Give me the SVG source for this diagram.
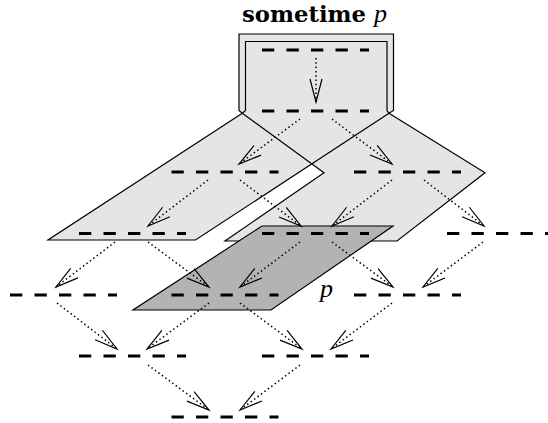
<svg xmlns="http://www.w3.org/2000/svg" width="548" height="423" viewBox="0 0 548 423">
<style>
.bg{fill:#fff}
.lt{fill:#e5e5e5;stroke:none}
.edge{fill:none;stroke:#000;stroke-width:1.2;stroke-linejoin:miter}
.dk{fill:#b3b3b3;stroke:#000;stroke-width:1.2}
.st{stroke:#000;stroke-width:3;stroke-dasharray:12.3 12.2;fill:none}
.conn{stroke:#000;stroke-width:1.5;stroke-dasharray:1.5 2.8;fill:none;marker-end:url(#ah)}
.title{font-family:"DejaVu Serif","Liberation Serif",serif;font-weight:bold;font-size:22.5px}
.math{font-family:"Liberation Serif","DejaVu Serif",serif;font-style:italic;font-size:26px}
</style>
<defs>
<marker id="ah" markerUnits="userSpaceOnUse" orient="auto" refX="0" refY="0" markerWidth="30" markerHeight="16" viewBox="-26 -8 30 16" overflow="visible">
<path d="M-23,-6 L0,0 L-23,6" fill="none" stroke="#000" stroke-width="1.2" stroke-dasharray="none"/>
</marker>
</defs>
<rect class="bg" x="0" y="0" width="548" height="423"/>

<g id="regions">
<polygon class="lt" points="242.3,113.3 48,240 195.5,240 389,113.3"/>
<polygon class="lt" points="242.3,113.3 324,172.7 225,241 397,241 485,172.7 389,113.3"/>
<polygon class="lt" points="239,34 393.5,34 393.5,110.5 389,113.3 242.3,113.3 239,110.5"/>
<path class="edge" d="M242.3,113.3 L239,110.5 V34 H393.5 V110.5 L389,113.3"/>
<path class="edge" d="M242.3,113.3 L245.5,110.5 V41.5 H387 V110.5 L389,113.3"/>
<path class="edge" d="M242.3,113.3 L48,240 H195.5 L389,113.3"/>
<path class="edge" d="M242.3,113.3 L324,172.7 L225,241 H397 L485,172.7 L389,113.3"/>
<polygon id="p-region" class="dk" points="262,226 393,226 271,310 133,310"/>
</g>

<g id="connectors">
<line class="conn" x1="316" y1="58" x2="316" y2="102"/>
<line class="conn" x1="300" y1="119" x2="239" y2="164"/>
<line class="conn" x1="332" y1="119" x2="392" y2="164"/>
<line class="conn" x1="208" y1="180" x2="148" y2="226"/>
<line class="conn" x1="240" y1="180" x2="301" y2="226"/>
<line class="conn" x1="392" y1="180" x2="332" y2="226"/>
<line class="conn" x1="424" y1="180" x2="484" y2="226"/>
<line class="conn" x1="115" y1="242" x2="56" y2="287"/>
<line class="conn" x1="148" y1="242" x2="209" y2="287"/>
<line class="conn" x1="300" y1="242" x2="240" y2="287"/>
<line class="conn" x1="332" y1="242" x2="393" y2="287"/>
<line class="conn" x1="483" y1="242" x2="423" y2="287"/>
<line class="conn" x1="57" y1="303" x2="117" y2="349"/>
<line class="conn" x1="209" y1="303" x2="147" y2="349"/>
<line class="conn" x1="240" y1="303" x2="302" y2="349"/>
<line class="conn" x1="392" y1="303" x2="331" y2="349"/>
<line class="conn" x1="148" y1="365" x2="209" y2="410"/>
<line class="conn" x1="300" y1="365" x2="240" y2="410"/>
</g>

<g id="s0"><line class="st" x1="262" y1="50" x2="369" y2="50"/></g>
<g id="s1"><line class="st" x1="262" y1="111" x2="369" y2="111"/></g>
<g id="s2a"><line class="st" x1="171.5" y1="172" x2="278.5" y2="172"/></g>
<g id="s2b"><line class="st" x1="354" y1="172" x2="461" y2="172"/></g>
<g id="s3a"><line class="st" x1="79" y1="233.5" x2="186" y2="233.5"/></g>
<g id="s3b"><line class="st" x1="262" y1="233.5" x2="369" y2="233.5"/></g>
<g id="s3c"><line class="st" x1="447" y1="233.5" x2="554" y2="233.5"/></g>
<g id="s4a"><line class="st" x1="10" y1="295" x2="117" y2="295"/></g>
<g id="s4b"><line class="st" x1="171.5" y1="295" x2="278.5" y2="295"/></g>
<g id="s4c"><line class="st" x1="354" y1="295" x2="461" y2="295"/></g>
<g id="s5a"><line class="st" x1="79" y1="356" x2="186" y2="356"/></g>
<g id="s5b"><line class="st" x1="262" y1="356" x2="369" y2="356"/></g>
<g id="s6"><line class="st" x1="171.5" y1="417" x2="278.5" y2="417"/></g>

<g id="title">
<text class="title" x="242" y="22" textLength="124" lengthAdjust="spacingAndGlyphs">sometime</text>
<text class="math" x="374" y="22">p</text>
</g>
<g id="label-p"><text class="math" x="320" y="297">p</text></g>
</svg>
